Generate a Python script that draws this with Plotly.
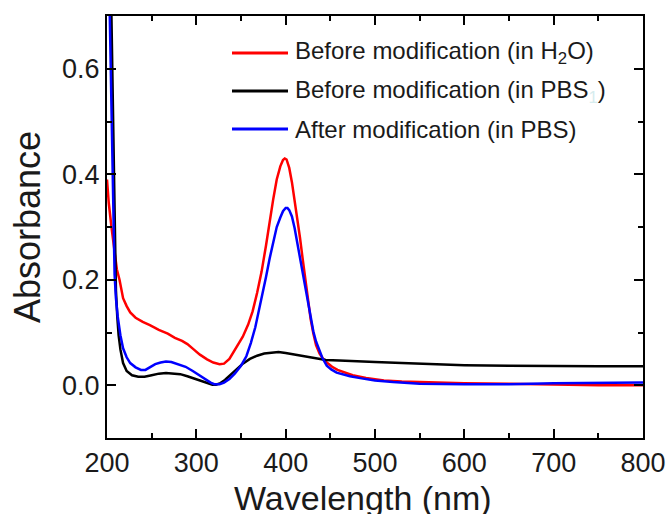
import plotly.graph_objects as go

# UV-vis absorbance spectra (wavelength in nm, absorbance in a.u.)
wl_h2o = [200, 202, 205, 208, 211, 214, 218, 222, 226, 232, 240, 248, 258, 268, 276,
          284, 290, 297, 304, 312, 319, 326, 331, 337, 345, 352, 358, 363, 368, 373,
          378, 382, 386, 390, 394, 397, 399, 401, 404, 407, 410, 413, 416, 419, 422,
          425, 428, 431, 434, 438, 442, 446, 452, 458, 466, 475, 490, 510, 530, 550,
          600, 650, 700, 750, 800]
abs_h2o = [0.390, 0.345, 0.300, 0.255, 0.220, 0.200, 0.165, 0.150, 0.138, 0.128, 0.120,
           0.114, 0.105, 0.098, 0.090, 0.084, 0.078, 0.068, 0.058, 0.049, 0.043, 0.040,
           0.041, 0.050, 0.072, 0.092, 0.115, 0.140, 0.175, 0.215, 0.265, 0.310, 0.352,
           0.390, 0.415, 0.427, 0.430, 0.428, 0.412, 0.385, 0.352, 0.318, 0.280, 0.240,
           0.200, 0.160, 0.125, 0.098, 0.076, 0.060, 0.050, 0.043, 0.035, 0.029, 0.024,
           0.019, 0.014, 0.009, 0.007, 0.006, 0.004, 0.003, 0.001, 0.000, 0.000]

wl_pbs = [204, 205.5, 207, 208.5, 210, 211.5, 213, 215, 218, 222, 228, 235, 242, 250,
          258, 266, 274, 282, 290, 297, 305, 312, 318, 322, 327, 332, 338, 345, 352, 360,
          368, 376, 384, 392, 400, 410, 420, 432, 445, 460, 480, 500, 530, 560, 600, 650,
          700, 750, 800]
abs_pbs = [0.800, 0.620, 0.450, 0.300, 0.180, 0.130, 0.095, 0.068, 0.042, 0.027, 0.019,
           0.016, 0.016, 0.019, 0.022, 0.023, 0.022, 0.021, 0.017, 0.013, 0.008, 0.004,
           0.001, 0.001, 0.004, 0.010, 0.019, 0.030, 0.041, 0.050, 0.056, 0.060, 0.062,
           0.063, 0.061, 0.058, 0.055, 0.051, 0.048, 0.047, 0.045, 0.044, 0.042, 0.040,
           0.038, 0.037, 0.036, 0.036, 0.036]

wl_mod = [202, 203, 204, 205, 206, 207, 208.5, 210, 212, 215, 218, 222, 226, 232, 238,
          243, 248, 254, 260, 266, 272, 280, 288, 296, 303, 310, 316, 320, 326, 331, 337,
          343, 350, 356, 361, 366, 370, 374, 378, 382, 386, 390, 394, 397, 400, 402, 404,
          407, 410, 413, 416, 419, 422, 425, 428, 431, 434, 437, 441, 446, 451, 457, 465,
          472, 485, 500, 520, 550, 600, 650, 700, 750, 800]
abs_mod = [0.800, 0.700, 0.620, 0.540, 0.420, 0.300, 0.210, 0.165, 0.130, 0.095, 0.070,
           0.053, 0.042, 0.034, 0.029, 0.029, 0.034, 0.040, 0.043, 0.045, 0.044, 0.040,
           0.035, 0.027, 0.019, 0.012, 0.005, 0.002, 0.002, 0.005, 0.012, 0.022, 0.037,
           0.055, 0.080, 0.110, 0.140, 0.170, 0.205, 0.240, 0.270, 0.300, 0.318, 0.330,
           0.336, 0.336, 0.332, 0.320, 0.298, 0.270, 0.245, 0.215, 0.185, 0.155, 0.128,
           0.102, 0.083, 0.068, 0.052, 0.037, 0.030, 0.024, 0.020, 0.017, 0.013, 0.009,
           0.006, 0.003, 0.002, 0.002, 0.004, 0.004, 0.005]

series_names = [
    "Before modification (in H<sub>2</sub>O)",
    "Before modification (in PBS<sub><span style='color:#d6ecee'>1</span></sub>)",
    "After modification (in PBS)",
]
series_colors = ["#ff0000", "#000000", "#0000ff"]

FONT = "Liberation Sans, Arial, sans-serif"
TEXT = "#1a1a1a"

fig = go.Figure()
for wl, ab, name, col in [
    (wl_h2o, abs_h2o, series_names[0], series_colors[0]),
    (wl_pbs, abs_pbs, series_names[1], series_colors[1]),
    (wl_mod, abs_mod, series_names[2], series_colors[2]),
]:
    fig.add_trace(go.Scatter(x=wl, y=ab, mode="lines", name=name,
                             line=dict(color=col, width=2.5),
                             showlegend=False))

# Fixed pixel frame for the plot area
W, H = 670, 514
L, R, T, B = 107, 27, 16, 76
pw, ph = W - L - R, H - T - B


def px(x):
    return (x - L) / pw


def py(y):
    return (H - B - y) / ph


# Hand-placed legend (line sample + label)
shapes = []
annotations = []
for i, (name, col) in enumerate(zip(series_names, series_colors)):
    yrow = 53 + 38 * i
    shapes.append(dict(type="line", xref="paper", yref="paper",
                       x0=px(232), x1=px(288), y0=py(yrow), y1=py(yrow),
                       line=dict(color=col, width=3)))
    annotations.append(dict(xref="paper", yref="paper", x=px(293), y=py(yrow),
                            xanchor="left", yanchor="middle", showarrow=False,
                            text=name, font=dict(family=FONT, size=24, color=TEXT)))

# x-axis title, set just below the tick labels
annotations.append(dict(xref="paper", yref="paper", x=px(363), y=py(477),
                        xanchor="center", yanchor="top", showarrow=False,
                        text="Wavelength (nm)", font=dict(family=FONT, size=34, color=TEXT)))

axis_common = dict(
    showline=True, linecolor="black", linewidth=2, mirror="ticks",
    ticks="inside", ticklen=9, tickwidth=2, tickcolor="black",
    showgrid=False, zeroline=False, automargin=False,
    tickfont=dict(family=FONT, size=27, color=TEXT),
)

fig.update_layout(
    width=W, height=H,
    margin=dict(l=L, r=R, t=T, b=B),
    paper_bgcolor="white", plot_bgcolor="white",
    shapes=shapes, annotations=annotations,
    xaxis=dict(range=[200, 800], dtick=100, tick0=0,
               minor=dict(dtick=50, ticklen=5, tickwidth=2, tickcolor="black", ticks="inside"),
               **axis_common),
    yaxis=dict(range=[-0.1, 0.7], dtick=0.2, tick0=0, tickformat=".1f",
               minor=dict(dtick=0.1, ticklen=5, tickwidth=2, tickcolor="black", ticks="inside"),
               title=dict(text="Absorbance", font=dict(family=FONT, size=36, color=TEXT),
                          standoff=10),
               **axis_common),
)

fig.write_html("out.html")
